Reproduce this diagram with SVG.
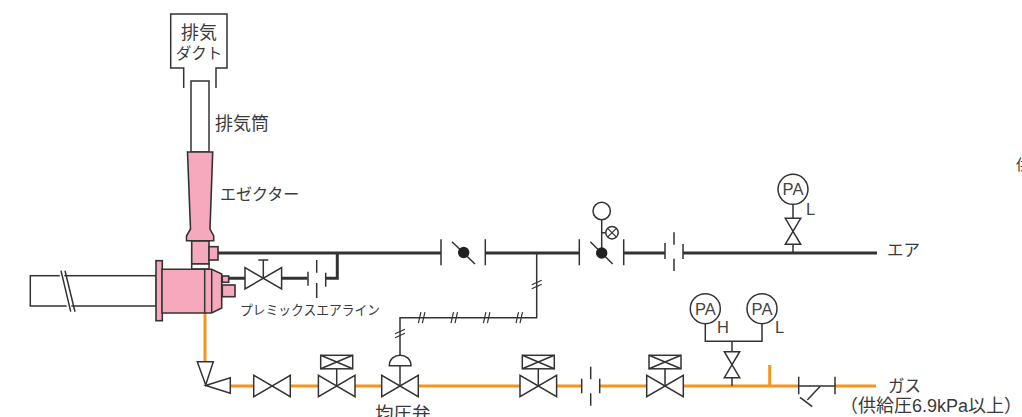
<svg xmlns="http://www.w3.org/2000/svg" width="1022" height="417" viewBox="0 0 1022 417">
<style>
text{font-family:"Noto Sans CJK JP","Noto Sans",sans-serif;fill:#3a3a3a;font-weight:400}
.s{fill:none;stroke:#333;stroke-width:1.5}
.w{fill:#fff;stroke:#333;stroke-width:1.5}
.p{fill:#f6a9bc;stroke:#333;stroke-width:1.6}
.a{fill:none;stroke:#333;stroke-width:3}
.g{fill:none;stroke:#f7941d;stroke-width:3}
.t{fill:none;stroke:#333;stroke-width:1.2}
.l{font-family:"Liberation Sans",Arial,sans-serif;font-size:16.500px;font-weight:400;fill:#444}
</style>
<defs>
<g id="vh"><path class="w" d="M-18.300-10.700V10.700L18.300-10.700V10.700Z"/></g>
<g id="vv"><path class="w" d="M-7.700-13H7.700L-7.700 13H7.700Z"/></g>
<g id="box"><rect class="w" x="-16" y="0" width="32" height="13.500"/><path class="s" d="M-16 0L16 13.500M-16 13.500L16 0M0 13.500V31"/></g>
<g id="tick"><path class="t" d="M-3.300 5.500L-.8-5.500M.7 5.500L3.200-5.500"/></g>
<g id="tickv"><path class="t" d="M-5 .5L5-4M-5 4.500L5 0"/></g>
<g id="pa"><circle class="w" r="15"/><text class="l" y="6" text-anchor="middle">PA</text></g>
</defs>
<g id="connectors">
<path class="a" d="M218 253H441M485.500 253H579.500M623.500 253H665M683 253H877"/>
<path class="a" d="M228.500 278.300H245M281 278.300H307.500M325.700 278.300H337.300V253"/>
<path class="g" d="M205 313V362M230 386H254M290 386H318M355 386H382M419 386H520M557 386H581.700M599.700 386H647M683.500 386H798.700M769.700 386V365M835 386H876"/>
<path class="s" d="M536.700 253V317.700H400V355M400 365.700V386M798.700 386H835M820 386.500L807.300 400M800 397.300L812.300 406.700"/>
<path class="s" d="M793 204V252M705.300 323.500V341.300H762V323.500M732 341.300V386"/>
<path class="s" d="M601.700 220V253M601.700 232.700H605.700"/>
<path class="s" d="M263.300 278V260M258.300 260H268.300"/>
<g id="line-breaks">
<use href="#tickv" x="536.700" y="284.300"/><use href="#tickv" x="400" y="333.300"/>
<use href="#tick" x="421.700" y="317.700"/><use href="#tick" x="454.300" y="317.700"/><use href="#tick" x="486.700" y="317.700"/><use href="#tick" x="519.300" y="317.700"/>
</g>
</g>
<g id="exhaust-duct"><path class="w" d="M183.700 88V68H170.700V14H227V68H216V88"/><text x="199" y="39" font-size="18" text-anchor="middle">排気</text><text x="199" y="59" font-size="15.500" text-anchor="middle">ダクト</text></g>
<g id="stack"><rect class="w" x="191" y="81" width="18" height="71"/><text x="215" y="130" font-size="18">排気筒</text></g>
<g id="ejector"><path class="p" d="M187.500 152H212.700L210 229L213.700 236V240.700H186.500V236L190.500 229Z"/><rect class="p" x="191.700" y="241" width="17.300" height="23"/><rect class="w" x="191.700" y="264" width="17.300" height="5"/><rect class="p" x="209" y="246.700" width="9" height="13.300"/><text x="220" y="200" font-size="16">エゼクター</text></g>
<g id="burner-tube"><rect class="w" x="30.300" y="275.700" width="126" height="30.300"/><path d="M63 270L72.700 312L68 312L58.500 270Z" fill="#fff"/><path class="s" d="M61 270.700L70.700 311.700M65 270.700L75 311.700"/></g>
<g id="burner"><rect class="p" x="156" y="260.700" width="6.300" height="60"/><path class="p" d="M162 269.300H211.700L221.700 274V308L211.700 313H162Z"/><path class="s" d="M204.700 269.300V313M211.700 269.300V313"/><rect class="p" x="222.300" y="276" width="6.400" height="6.300"/><rect class="p" x="222.300" y="285" width="12.700" height="11.700"/></g>
<g id="premix-valve"><use href="#vh" x="263.300" y="278.300"/><text x="240" y="315" font-size="13.200" textLength="140" lengthAdjust="spacingAndGlyphs">プレミックスエアライン</text></g>
<g id="union-premix"><path class="s" d="M308 271.700V285.700M325.700 272.700V286.700M316.700 260V272.700M316.700 283V298"/></g>
<g id="butterfly-1"><path class="s" d="M441 239.300V265.300M485.300 239.300V265.300M452 241.700L475 264"/><circle cx="463.700" cy="252.500" r="5.700" fill="#222"/></g>
<g id="butterfly-2"><path class="s" d="M579.300 239.300V265.300M623.700 239.300V265.300M590.300 241.700L612.700 264"/><circle cx="601.700" cy="253" r="5.700" fill="#222"/><circle class="w" cx="601.700" cy="211" r="8.700"/><g><circle class="w" cx="612" cy="232.700" r="6.200"/><path class="t" d="M607.600 228.300L616.400 237.100M607.600 237.100L616.400 228.300"/></g></g>
<g id="union-air"><path class="s" d="M665 243V259M683 244V259"/><path class="s" d="M674 232.300V271" stroke-dasharray="12.500 14"/></g>
<g id="pa-air"><use href="#pa" x="793" y="189.300"/><use href="#vv" x="793" y="231.300"/><text class="l" x="806" y="215">L</text></g>
<g id="label-air"><text x="887" y="256" font-size="16.500">エア</text></g>
<g id="elbow"><path class="w" d="M197.300 361.700H213.300L205.700 385Z"/><path class="w" d="M205.700 385.500L230.300 377.700V393.300Z"/></g>
<g id="gas-valve-1"><use href="#vh" x="272" y="386"/></g>
<g id="gas-valve-2"><use href="#vh" x="336.700" y="386"/><use href="#box" x="336.700" y="355.300"/></g>
<g id="equalizer-valve"><use href="#vh" x="400" y="386"/><path class="w" d="M389.300 365.700C389.300 351.700 411 351.700 411 365.700Z"/><text x="375" y="420" font-size="18.500">均圧弁</text></g>
<g id="gas-valve-3"><use href="#vh" x="538.300" y="386"/><use href="#box" x="538.300" y="355.300"/></g>
<g id="union-gas"><path class="s" d="M581.700 378.700V393.300M599.700 378.700V393.300"/><path class="s" d="M590.700 366.700V405.700" stroke-dasharray="12.500 14"/></g>
<g id="gas-valve-4"><use href="#vh" x="665" y="386"/><use href="#box" x="665" y="355.300"/></g>
<g id="pa-gas"><use href="#pa" x="705.300" y="308.700"/><use href="#pa" x="762" y="308.700"/><use href="#vv" x="732" y="364.700"/><text class="l" x="717" y="333">H</text><text class="l" x="775" y="333">L</text></g>
<g id="strainer"><path class="s" d="M798.700 376.700V394.300M835 376.700V394.300"/></g>
<g id="label-gas"><text x="888" y="391.500" font-size="16.500">ガス</text><text x="840" y="411.500" font-size="18">（供給圧<tspan font-family="Liberation Sans">6.9kPa</tspan>以上）</text></g>
<text x="1016" y="170" font-size="15">供</text>
</svg>
